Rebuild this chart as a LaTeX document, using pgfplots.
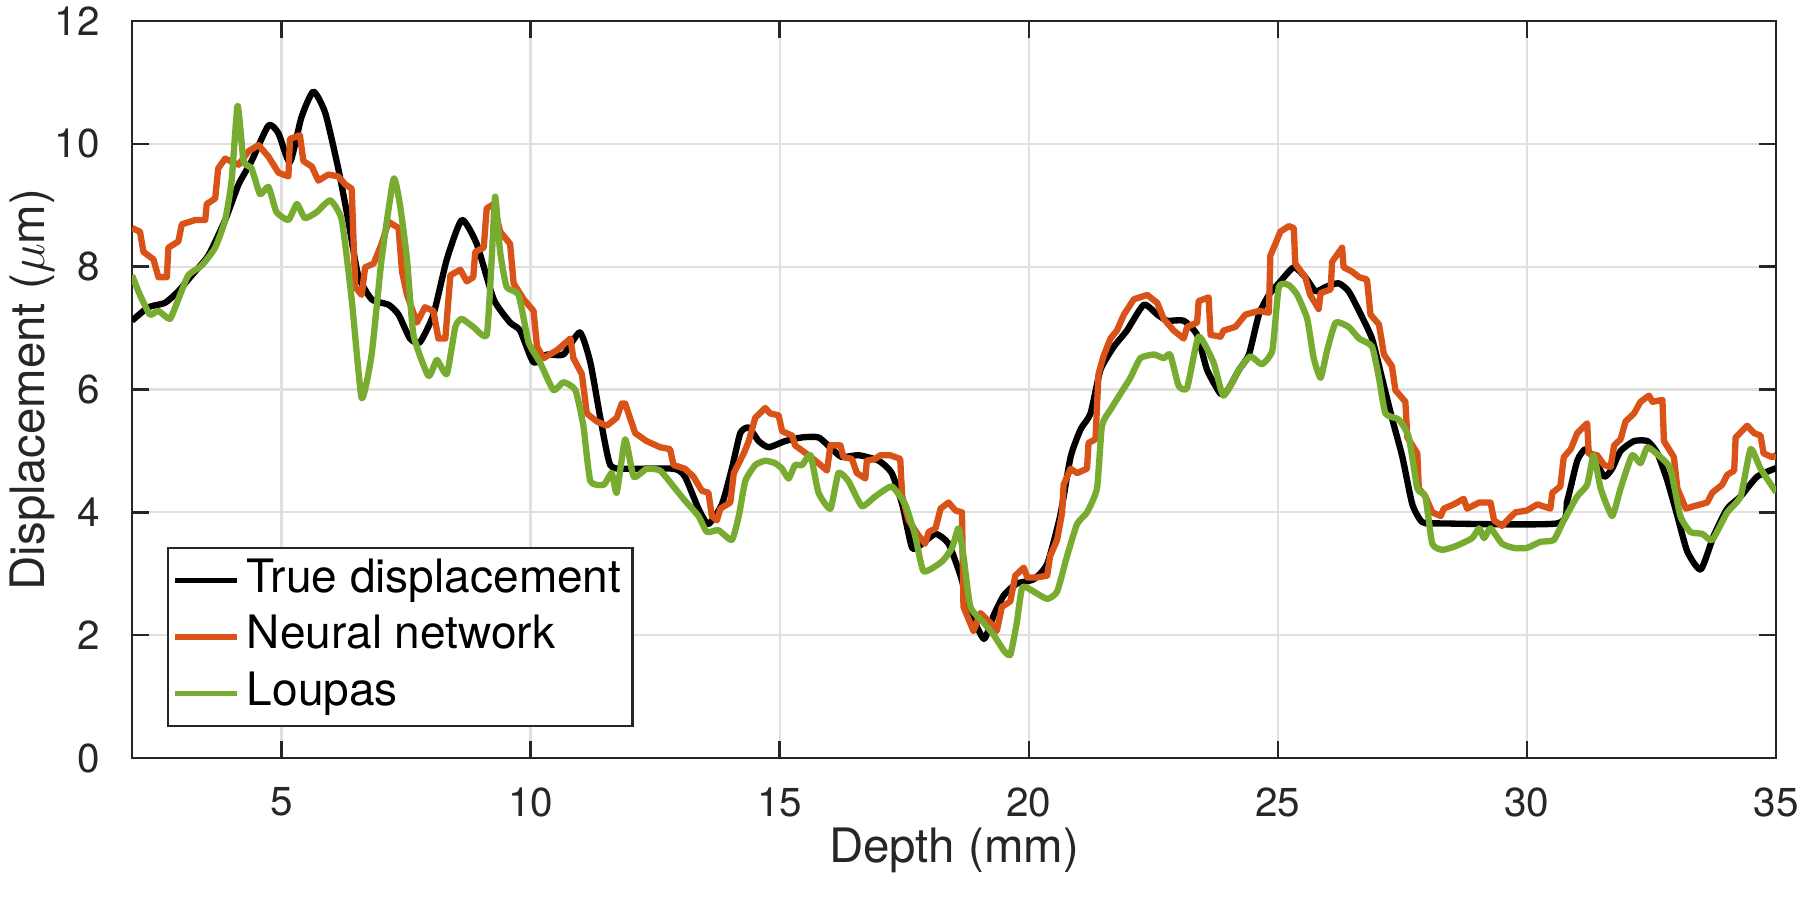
\documentclass[border=0pt]{standalone}
\usepackage{pgfplots}
\pgfplotsset{compat=1.18}
\usepackage{fontspec}
\setmainfont{TeX Gyre Heros}
\definecolor{axgray}{rgb}{0.15,0.15,0.15}
\definecolor{gridgray}{rgb}{0.88,0.88,0.88}
\definecolor{nnorange}{rgb}{0.85,0.325,0.098}
\definecolor{lpgreen}{rgb}{0.466,0.674,0.188}
\begin{document}
\begin{tikzpicture}
\begin{axis}[
  scale only axis,
  width=16.44cm, height=7.37cm,
  xmin=2, xmax=35, ymin=0, ymax=12,
  xtick={5,10,...,35}, ytick={0,2,...,12},
  grid=major,
  major grid style={draw=gridgray, line width=0.6pt},
  axis line style={draw=axgray, line width=0.7pt},
  tick align=inside, major tick length=0.17cm,
  tick style={draw=axgray, line width=0.7pt},
  /pgf/number format/assume math mode=true,
  tick label style={font=\fontsize{11.5}{13}\selectfont, text=axgray},
  xticklabel shift=0.17cm, yticklabel shift=0.2cm,
  xlabel={Depth (mm)}, ylabel={Displacement ($\mu$m)},
  label style={font=\fontsize{13.5}{15}\selectfont, text=axgray},
  xlabel style={at={(axis description cs:0.5,-0.1248)}, anchor=center},
  ylabel style={at={(axis description cs:-0.0608,0.5)}, anchor=center},
  legend cell align=left,
  legend style={at={(rel axis cs:0.0213,0.042)}, anchor=south west,
    draw=axgray, line width=0.7pt, inner sep=0.04cm,
    nodes={font=\fontsize{13.1}{15}\selectfont, text=black,
      text height=0.32cm, text depth=0.08cm, inner ysep=0.083cm, inner xsep=0.07cm}},
  legend image code/.code={\draw[#1, line width=1.6pt] (0cm,0cm) -- (0.62cm,0cm);},
  every axis plot/.append style={line width=1.8pt, line join=round},
]
\addplot[black, smooth, tension=0.35] coordinates {
(2,7.12)(2.33,7.34)(2.66,7.41)(2.93,7.6)(3.2,7.86)(3.53,8.18)(3.87,8.76)(4.14,9.34)(4.4,9.72)(4.74,10.3)(4.94,10.17)(5.17,9.7)(5.4,10.43)(5.64,10.85)(5.88,10.5)(6.14,9.6)(6.34,8.76)(6.54,7.86)(6.81,7.47)(7.15,7.38)(7.35,7.22)(7.58,6.83)(7.78,6.77)(8.05,7.22)(8.32,8.12)(8.62,8.76)(8.92,8.37)(9.26,7.47)(9.59,7.09)(9.79,6.96)(10.06,6.44)(10.33,6.57)(10.66,6.57)(10.99,6.93)(11.2,6.44)(11.4,5.54)(11.6,4.77)(11.93,4.71)(12.87,4.71)(13.1,4.58)(13.37,4.06)(13.57,3.81)(13.84,4.13)(14.04,4.71)(14.21,5.29)(14.38,5.38)(14.58,5.16)(14.78,5.06)(15.11,5.16)(15.45,5.22)(15.78,5.22)(16.05,5.03)(16.25,4.9)(16.59,4.93)(16.99,4.84)(17.25,4.64)(17.46,4.13)(17.66,3.42)(17.86,3.49)(18.13,3.65)(18.39,3.49)(18.63,2.97)(18.83,2.39)(19.1,1.94)(19.3,2.33)(19.5,2.65)(19.76,2.84)(20.1,2.91)(20.37,3.16)(20.63,3.94)(20.84,4.9)(21.04,5.35)(21.24,5.61)(21.44,6.32)(21.71,6.7)(21.97,6.96)(22.31,7.38)(22.58,7.22)(22.78,7.12)(23.11,7.12)(23.38,6.89)(23.58,6.32)(23.85,5.93)(24.0,6.0)(24.22,6.32)(24.42,6.57)(24.62,7.22)(24.82,7.54)(25.02,7.73)(25.32,7.99)(25.55,7.83)(25.76,7.6)(25.96,7.67)(26.22,7.73)(26.42,7.6)(26.63,7.28)(26.89,6.83)(27.09,6.19)(27.29,5.54)(27.5,4.9)(27.7,4.13)(27.9,3.84)(28.23,3.82)(30.61,3.82)(30.81,4.19)(31.01,4.84)(31.18,5.03)(31.38,4.84)(31.55,4.58)(31.71,4.71)(31.88,5.0)(32.15,5.16)(32.42,5.16)(32.62,4.96)(32.82,4.51)(33.02,3.94)(33.22,3.36)(33.49,3.07)(33.75,3.62)(34.02,4.06)(34.29,4.26)(34.62,4.58)(35,4.72)
};
\addlegendentry{True displacement}
\addplot[nnorange] coordinates {
(2,8.63)(2.16,8.57)(2.23,8.24)(2.43,8.12)(2.53,7.83)(2.7,7.83)(2.73,8.31)(2.93,8.41)(3.0,8.69)(3.27,8.76)(3.47,8.76)(3.5,9.02)(3.67,9.11)(3.73,9.6)(3.87,9.76)(4.14,9.66)(4.34,9.88)(4.54,9.98)(4.74,9.79)(4.94,9.53)(5.14,9.47)(5.17,10.08)(5.37,10.14)(5.44,9.72)(5.61,9.63)(5.74,9.4)(5.94,9.5)(6.14,9.47)(6.28,9.34)(6.41,9.27)(6.48,7.67)(6.61,7.54)(6.68,7.99)(6.85,8.05)(7.01,8.37)(7.15,8.73)(7.35,8.63)(7.42,7.92)(7.52,7.54)(7.72,7.09)(7.88,7.34)(8.05,7.28)(8.15,6.83)(8.29,6.83)(8.39,7.86)(8.59,7.95)(8.72,7.76)(8.85,7.83)(8.89,8.24)(9.06,8.31)(9.12,8.95)(9.26,9.02)(9.39,8.57)(9.59,8.37)(9.66,7.73)(9.86,7.47)(10.06,7.28)(10.13,6.7)(10.26,6.51)(10.53,6.64)(10.8,6.83)(10.86,6.51)(11.03,6.25)(11.13,5.61)(11.33,5.48)(11.53,5.41)(11.73,5.54)(11.83,5.77)(11.9,5.77)(12.1,5.29)(12.33,5.16)(12.6,5.06)(12.8,5.03)(12.87,4.77)(13.1,4.71)(13.27,4.58)(13.44,4.35)(13.57,4.32)(13.64,3.94)(13.74,3.87)(13.81,4.06)(14.01,4.16)(14.08,4.64)(14.28,4.96)(14.38,5.16)(14.51,5.54)(14.71,5.7)(14.81,5.61)(14.98,5.58)(15.05,5.32)(15.25,5.25)(15.31,5.09)(15.58,4.93)(15.78,4.8)(15.95,4.68)(16.02,5.09)(16.22,5.09)(16.28,4.9)(16.45,4.87)(16.55,4.64)(16.72,4.55)(16.75,4.84)(16.92,4.87)(17.02,4.93)(17.22,4.93)(17.42,4.87)(17.46,4.26)(17.59,3.87)(17.79,3.62)(17.92,3.49)(17.99,3.68)(18.13,3.74)(18.23,4.06)(18.39,4.16)(18.53,4.03)(18.66,4.0)(18.69,2.46)(18.89,2.07)(19.03,2.36)(19.23,2.2)(19.36,2.07)(19.46,2.46)(19.63,2.55)(19.73,2.97)(19.9,3.1)(19.97,2.94)(20.17,2.94)(20.37,2.97)(20.43,3.29)(20.57,3.55)(20.67,4.0)(20.7,4.45)(20.84,4.71)(20.97,4.64)(21.17,4.71)(21.2,5.13)(21.34,5.19)(21.4,6.25)(21.5,6.54)(21.64,6.83)(21.77,6.96)(21.91,7.22)(22.11,7.47)(22.38,7.54)(22.58,7.41)(22.71,7.15)(22.91,6.96)(23.11,6.83)(23.18,7.02)(23.38,7.09)(23.41,7.44)(23.61,7.5)(23.65,6.89)(23.85,6.86)(23.91,6.96)(24.15,7.02)(24.35,7.22)(24.62,7.28)(24.82,7.25)(24.85,8.18)(24.95,8.37)(25.05,8.57)(25.22,8.66)(25.32,8.63)(25.35,8.05)(25.55,7.83)(25.65,7.54)(25.82,7.31)(25.86,7.57)(26.06,7.63)(26.09,8.08)(26.29,8.31)(26.32,7.99)(26.49,7.92)(26.63,7.83)(26.79,7.79)(26.86,7.22)(27.03,7.06)(27.13,6.57)(27.29,6.38)(27.36,5.99)(27.56,5.8)(27.6,5.22)(27.8,4.96)(27.83,4.39)(27.96,4.26)(28.1,4.0)(28.27,3.94)(28.33,4.06)(28.53,4.13)(28.73,4.22)(28.8,4.06)(29.04,4.16)(29.27,4.16)(29.34,3.87)(29.5,3.78)(29.64,3.9)(29.77,4.0)(30.0,4.03)(30.21,4.13)(30.47,4.06)(30.51,4.32)(30.67,4.42)(30.74,4.9)(30.88,5.03)(31.01,5.29)(31.21,5.45)(31.24,4.96)(31.41,4.93)(31.55,4.77)(31.68,4.74)(31.75,5.09)(31.88,5.19)(31.98,5.48)(32.15,5.61)(32.28,5.8)(32.45,5.9)(32.52,5.8)(32.72,5.83)(32.75,5.16)(32.95,4.9)(33.02,4.39)(33.19,4.06)(33.35,4.1)(33.62,4.16)(33.72,4.32)(33.92,4.45)(34.02,4.61)(34.16,4.68)(34.19,5.22)(34.42,5.41)(34.56,5.29)(34.69,5.25)(34.75,4.96)(34.92,4.9)(35,4.93)
};
\addlegendentry{Neural network}
\addplot[lpgreen, smooth, tension=0.3] coordinates {
(2,7.86)(2.16,7.54)(2.36,7.22)(2.53,7.28)(2.76,7.15)(2.93,7.47)(3.13,7.86)(3.4,8.02)(3.67,8.31)(3.87,8.76)(4.0,9.4)(4.12,10.62)(4.24,9.72)(4.4,9.6)(4.57,9.18)(4.74,9.3)(4.9,8.89)(5.14,8.76)(5.31,9.02)(5.47,8.79)(5.71,8.89)(5.98,9.08)(6.21,8.76)(6.41,7.47)(6.61,5.86)(6.81,6.57)(7.01,8.12)(7.25,9.43)(7.38,9.0)(7.52,8.12)(7.65,6.89)(7.95,6.22)(8.12,6.48)(8.32,6.25)(8.49,7.02)(8.62,7.15)(8.85,7.02)(9.12,6.89)(9.22,8.12)(9.29,9.14)(9.39,8.24)(9.52,7.67)(9.76,7.54)(9.96,6.77)(10.19,6.44)(10.46,5.99)(10.66,6.12)(10.9,5.99)(11.06,5.41)(11.2,4.51)(11.47,4.45)(11.63,4.64)(11.73,4.32)(11.9,5.19)(12.07,4.58)(12.33,4.71)(12.6,4.68)(12.87,4.42)(13.1,4.19)(13.37,3.94)(13.54,3.68)(13.77,3.71)(14.04,3.55)(14.18,3.94)(14.31,4.51)(14.51,4.77)(14.71,4.84)(14.91,4.8)(15.05,4.71)(15.18,4.55)(15.31,4.77)(15.45,4.77)(15.62,4.93)(15.78,4.32)(16.02,4.06)(16.18,4.64)(16.38,4.51)(16.65,4.1)(16.92,4.26)(17.25,4.42)(17.52,4.13)(17.72,3.62)(17.89,3.04)(18.26,3.2)(18.46,3.42)(18.59,3.74)(18.69,3.29)(18.83,2.46)(19.1,2.2)(19.3,2.0)(19.5,1.75)(19.63,1.68)(19.76,2.2)(19.87,2.78)(20.1,2.71)(20.37,2.59)(20.57,2.71)(20.77,3.29)(20.97,3.81)(21.17,4.0)(21.37,4.39)(21.47,5.41)(21.64,5.67)(21.84,5.93)(22.04,6.19)(22.24,6.51)(22.51,6.57)(22.71,6.51)(22.84,6.57)(23.01,6.06)(23.18,6.03)(23.41,6.86)(23.71,6.44)(23.91,5.9)(24.22,6.32)(24.45,6.54)(24.68,6.41)(24.89,6.64)(25.02,7.67)(25.22,7.7)(25.39,7.54)(25.59,7.15)(25.72,6.51)(25.86,6.19)(25.99,6.64)(26.16,7.09)(26.42,7.02)(26.63,6.83)(26.89,6.7)(27.03,6.19)(27.16,5.61)(27.43,5.51)(27.63,5.22)(27.8,4.39)(27.96,4.26)(28.1,3.49)(28.3,3.39)(28.57,3.45)(28.9,3.58)(29.04,3.74)(29.14,3.58)(29.27,3.74)(29.5,3.49)(29.74,3.42)(30.0,3.42)(30.27,3.52)(30.54,3.55)(30.74,3.87)(31.01,4.26)(31.21,4.45)(31.34,4.93)(31.48,4.39)(31.71,3.94)(31.88,4.39)(32.11,4.93)(32.28,4.8)(32.42,5.06)(32.68,4.9)(32.88,4.71)(33.08,3.94)(33.28,3.68)(33.52,3.65)(33.72,3.55)(34.02,4.0)(34.29,4.26)(34.49,5.03)(34.69,4.71)(35,4.33)
};
\addlegendentry{Loupas}
\end{axis}
\pgfresetboundingbox
\path ([shift={(-1.32cm,-1.45cm)}]current axis.south west) rectangle ([shift={(0.24cm,0.21cm)}]current axis.north east);
\end{tikzpicture}
\end{document}
